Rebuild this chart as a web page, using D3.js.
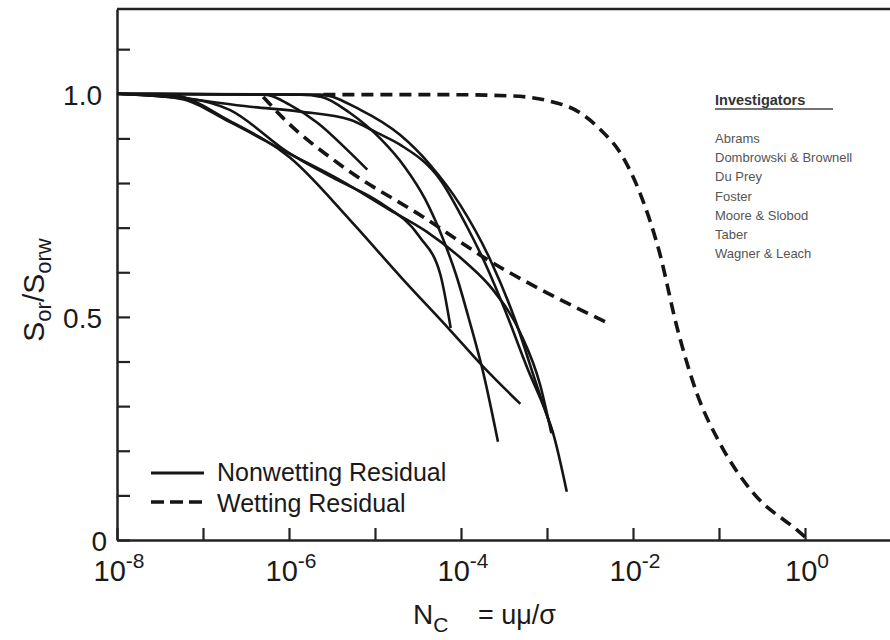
<!DOCTYPE html>
<html lang="en">
<head>
<meta charset="utf-8">
<script src="https://d3js.org/d3.v7.min.js"></script>
<style>
body { margin: 0; background: #fff; }
svg text { font-family: "Liberation Sans", Arial, Helvetica, sans-serif; fill: #1a1a1a; }
</style>
</head>
<body>
<div id="chart"></div>
<script>
// each point: [log10(Nc), Sor/Sorw]
var nw1 = [[-8, 1.0], [-7.33, 0.996], [-6.69, 0.939], [-5.99, 0.857], [-5.29, 0.717], [-4.67, 0.583], [-4.13, 0.471], [-3.74, 0.388], [-3.31, 0.305]];
var nw2 = [[-8, 1.0], [-7.15, 0.989], [-6.69, 0.964], [-6.02, 0.870], [-5.44, 0.807], [-4.94, 0.756], [-4.48, 0.679], [-4.24, 0.595], [-4.12, 0.475]];
var nw3 = [[-8, 1.0], [-6.28, 0.998], [-5.99, 0.975], [-5.67, 0.935], [-5.29, 0.868], [-5.09, 0.830]];
var nw4 = [[-8, 1.0], [-5.87, 0.998], [-5.62, 0.993], [-5.29, 0.957], [-4.94, 0.900], [-4.65, 0.835], [-4.42, 0.765], [-4.22, 0.680], [-4.05, 0.590], [-3.90, 0.490], [-3.74, 0.374], [-3.57, 0.220]];
var nw5 = [[-8, 1.0], [-7.30, 0.991], [-6.45, 0.971], [-5.87, 0.960], [-5.29, 0.942], [-4.98, 0.913], [-4.71, 0.886], [-4.24, 0.807], [-3.93, 0.702], [-3.70, 0.612], [-3.49, 0.516], [-3.22, 0.381], [-3.02, 0.290], [-2.93, 0.240], [-2.77, 0.108]];
var nw6 = [[-8, 1.0], [-5.64, 0.998], [-5.17, 0.964], [-4.71, 0.908], [-4.36, 0.841], [-4.01, 0.751], [-3.66, 0.628], [-3.37, 0.493], [-3.14, 0.359], [-2.93, 0.238]];
var nw7 = [[-8, 1.0], [-7.27, 0.989], [-6.69, 0.937], [-6.02, 0.868], [-5.41, 0.807], [-4.83, 0.740], [-4.40, 0.691], [-3.95, 0.623], [-3.63, 0.561], [-3.31, 0.464], [-3.08, 0.348], [-2.95, 0.240]];

var wetMain = [[-5.60, 0.998], [-4.13, 0.998], [-3.40, 0.995], [-3.00, 0.985], [-2.62, 0.958], [-2.38, 0.920], [-2.12, 0.859], [-1.92, 0.778], [-1.69, 0.643], [-1.49, 0.478], [-1.26, 0.330], [-0.99, 0.217], [-0.60, 0.105], [-0.09, 0.022], [0.0, 0.007]];
var wetShort = [[-6.30, 0.993], [-6.07, 0.946], [-5.37, 0.836], [-4.44, 0.724], [-3.63, 0.621], [-3.00, 0.554], [-2.30, 0.487]];

var xTickExps = [-8, -7, -6, -5, -4, -3, -2, -1, 0];
var xLabelExps = [-8, -6, -4, -2, 0];
var yTicks = [0, 0.1, 0.2, 0.3, 0.4, 0.5, 0.6, 0.7, 0.8, 0.9, 1.0, 1.1];
var yLabels = [0, 0.5, 1.0];
var investigators = ["Abrams", "Dombrowski & Brownell", "Du Prey", "Foster", "Moore & Slobod", "Taber", "Wagner & Leach"];

var width = 890, height = 640;
var plotLeft = 117, plotTop = 9, plotBottom = 540, plotRight = 891;

var svg = d3.select("#chart").append("svg")
    .attr("width", width)
    .attr("height", height);

var x = d3.scaleLog().domain([1e-8, 1e1]).range([plotLeft, plotRight]);
var y = d3.scaleLinear().domain([0, 1.19]).range([plotBottom, plotTop]);

// frame top
svg.append("line")
    .attr("x1", plotLeft).attr("x2", plotRight)
    .attr("y1", plotTop).attr("y2", plotTop)
    .attr("stroke", "#222").attr("stroke-width", 2.5);

// x axis, ticks pointing up
var xAxis = svg.append("g")
    .attr("transform", "translate(0," + plotBottom + ")")
    .call(d3.axisBottom(x)
        .tickValues(xTickExps.map(function(e) { return Math.pow(10, e); }))
        .tickSize(-12).tickSizeOuter(0).tickFormat(""));
xAxis.select(".domain").attr("stroke", "#222").attr("stroke-width", 2.5);
xAxis.selectAll(".tick line").attr("stroke", "#222").attr("stroke-width", 2.2);

// y axis, ticks pointing right
var yAxis = svg.append("g")
    .attr("transform", "translate(" + plotLeft + ",0)")
    .call(d3.axisLeft(y).tickValues(yTicks).tickSize(-13).tickSizeOuter(0).tickFormat(""));
yAxis.select(".domain").attr("stroke", "#222").attr("stroke-width", 2.5);
yAxis.selectAll(".tick line").attr("stroke", "#222").attr("stroke-width", 2.2);

svg.selectAll(".ylab")
    .data(yLabels)
    .enter().append("text")
    .attr("class", "ylab")
    .attr("x", function(d) { return d === 0 ? 107 : 102; })
    .attr("y", function(d) { return y(d) + 11; })
    .attr("text-anchor", "end")
    .style("font-size", "28px")
    .text(function(d) { return d === 0 ? "0" : d.toFixed(1); });

var xl = svg.selectAll(".xlab")
    .data(xLabelExps)
    .enter().append("text")
    .attr("class", "xlab")
    .attr("x", function(d) { return x(Math.pow(10, d)) + 2; })
    .attr("y", 581)
    .attr("text-anchor", "middle")
    .style("font-size", "29px");
xl.append("tspan").text("10");
xl.append("tspan").attr("dy", -13).style("font-size", "21px")
    .text(function(d) { return d === 0 ? "0" : "-" + Math.abs(d); });

// axis titles
var yt = svg.append("text")
    .attr("transform", "translate(44,290) rotate(-90)")
    .attr("text-anchor", "middle")
    .style("font-size", "30px");
yt.append("tspan").text("S");
yt.append("tspan").attr("dy", 7).style("font-size", "22px").text("or");
yt.append("tspan").attr("dy", -7).text("/S");
yt.append("tspan").attr("dy", 7).style("font-size", "22px").text("orw");

var xt = svg.append("text").attr("x", 413).attr("y", 624).style("font-size", "28px");
xt.append("tspan").text("N");
xt.append("tspan").attr("dy", 8).style("font-size", "21px").text("C");
svg.append("text").attr("x", 478).attr("y", 624).style("font-size", "27px").text("= uμ/σ");

// curves
var line = d3.line()
    .x(function(d) { return x(Math.pow(10, d[0])); })
    .y(function(d) { return y(d[1]); })
    .curve(d3.curveMonotoneX);

[nw1, nw2, nw3, nw4, nw5, nw6, nw7].forEach(function(c) {
    svg.append("path")
        .datum(c)
        .attr("d", line)
        .attr("fill", "none")
        .attr("stroke", "#151515")
        .attr("stroke-width", 2.6);
});

[wetMain, wetShort].forEach(function(c) {
    svg.append("path")
        .datum(c)
        .attr("d", line)
        .attr("fill", "none")
        .attr("stroke", "#151515")
        .attr("stroke-width", 3.6)
        .attr("stroke-dasharray", "12,7");
});

// legend
svg.append("line").attr("x1", 151).attr("x2", 204).attr("y1", 473).attr("y2", 473)
    .attr("stroke", "#151515").attr("stroke-width", 3);
svg.append("text").attr("x", 217).attr("y", 481).style("font-size", "25px").text("Nonwetting Residual");
svg.append("line").attr("x1", 151).attr("x2", 204).attr("y1", 502).attr("y2", 502)
    .attr("stroke", "#151515").attr("stroke-width", 3.6).attr("stroke-dasharray", "13,6");
svg.append("text").attr("x", 217).attr("y", 512).style("font-size", "25px").text("Wetting Residual");

// investigators box
svg.append("text").attr("x", 715).attr("y", 105)
    .style("font-size", "14.5px").style("font-weight", "bold").style("fill", "#333")
    .text("Investigators");
svg.append("line").attr("x1", 715).attr("x2", 833).attr("y1", 109).attr("y2", 109)
    .attr("stroke", "#444").attr("stroke-width", 1.5);

svg.selectAll(".inv")
    .data(investigators)
    .enter().append("text")
    .attr("class", "inv")
    .attr("x", 715)
    .attr("y", function(d, i) { return 143 + i * 19.2; })
    .style("font-size", "13px")
    .style("fill", "#555")
    .text(function(d) { return d; });
</script>
</body>
</html>
